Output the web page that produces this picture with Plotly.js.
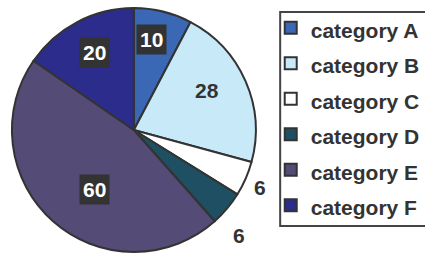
<!DOCTYPE html>
<html><head><meta charset="utf-8">
<script src="https://cdn.plot.ly/plotly-3.0.1.min.js"></script>
<style>html,body{margin:0;padding:0;background:#fff;}</style>
</head><body>
<div id="chart" style="width:425px;height:255px;"></div>
<script>
var categories = ["category A","category B","category C","category D","category E","category F"];
var values = [10, 28, 6, 6, 60, 20];

var sliceColors = ["#3A68B4","#C7E9F8","#FFFFFF","#1F4F63","#544B76","#2B2C8C"];
var labelRadius = [0.75, 0.68, 1.14, 1.22, 0.58, 0.71];
var labelAngleShift = [-3, -4.5, 1, 4.6, -7.9, 0.7];
var labelBoxed = [true, false, false, false, true, true];

var W = 425, H = 255;
var domX = [0.0282, 0.6047], domY = [0.0098, 0.9706];
var FONT = 'Arial, "Liberation Sans", sans-serif';

var annotations = [];
var total = values.reduce(function(a,b){return a+b;},0);
var rPx = Math.min((domX[1]-domX[0])*W, (domY[1]-domY[0])*H)/2;
var cx = (domX[0]+domX[1])/2, cy = (domY[0]+domY[1])/2;
var cum = 0;
values.forEach(function(v,i){
  var mid = (cum + v/2)/total*2*Math.PI + labelAngleShift[i]*Math.PI/180;
  cum += v;
  var f = labelRadius[i];
  annotations.push({
    xref:'paper', yref:'paper', xanchor:'center', yanchor:'middle',
    x: cx + f*rPx*Math.sin(mid)/W,
    y: cy + f*rPx*Math.cos(mid)/H,
    text: String(v), showarrow:false,
    font:{family:FONT, size:21, color: labelBoxed[i] ? '#FFFFFF' : '#333333', weight:'bold'},
    bgcolor: labelBoxed[i] ? '#333333' : 'rgba(0,0,0,0)',
    borderpad: 3
  });
});

var trace = {
  type:'pie',
  labels: categories.map(function(c){return '<span style="font-size:21px">'+c+'</span>';}),
  values: values,
  sort:false, direction:'clockwise', rotation:0,
  textinfo:'none', hoverinfo:'none',
  marker:{colors:sliceColors, line:{color:'#333333', width:2}},
  domain:{x:domX, y:domY}
};

var layout = {
  width:W, height:H,
  margin:{l:0,r:0,t:0,b:0},
  paper_bgcolor:'#fff',
  showlegend:true,
  legend:{
    x:272/W, y:1-5/H, xanchor:'left', yanchor:'top',
    borderwidth:0, bgcolor:'rgba(0,0,0,0)',
    font:{family:FONT, size:25, color:'#333333', weight:'bold'}
  },
  shapes:[{type:'rect', xref:'paper', yref:'paper', layer:'below',
    x0:281.5/W, x1:430/W, y0:1-226/H, y1:1-12/H,
    line:{color:'#444444', width:2}, fillcolor:'#FFFFFF'}],
  annotations: annotations
};
Plotly.newPlot('chart',[trace],layout,{displayModeBar:false, staticPlot:true});
</script>
</body></html>
